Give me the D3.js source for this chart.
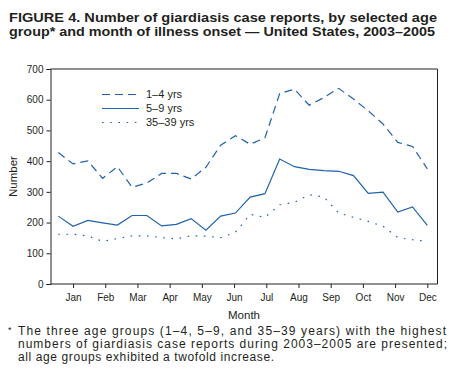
<!DOCTYPE html>
<html>
<head>
<meta charset="utf-8">
<script src="https://cdn.jsdelivr.net/npm/d3@7"></script>
<style>
  html, body { margin: 0; padding: 0; background: #fff; }
  svg { display: block; font-family: Arial, "Liberation Sans", Helvetica, sans-serif; }
</style>
</head>
<body>
<div id="chart"></div>
<script>
// 26 reporting periods across the year
const periods = d3.range(26);
const months = ["Jan", "Feb", "Mar", "Apr", "May", "Jun", "Jul", "Aug", "Sep", "Oct", "Nov", "Dec"];
const yTicks = [0, 100, 200, 300, 400, 500, 600, 700];

const age1to4 = [428, 391, 401, 344, 382, 315, 329, 360, 360, 342, 380, 452, 483,
  455, 476, 620, 634, 582, 607, 637, 602, 564, 521, 461, 448, 375];
const age5to9 = [221, 188, 207, 199, 192, 223, 223, 189, 194, 213, 175, 221, 231,
  283, 294, 407, 382, 373, 369, 367, 353, 295, 299, 234, 251, 191];
const age35to39 = [162, 162, 156, 139, 148, 157, 157, 151, 147, 157, 156, 151, 168,
  227, 217, 258, 266, 291, 283, 231, 217, 204, 188, 151, 144, 139];

const seriesList = [
  { label: "1–4 yrs", values: age1to4, dash: "8,5" },
  { label: "5–9 yrs", values: age5to9, dash: null },
  { label: "35–39 yrs", values: age35to39, dash: "1.6,6.6" }
];

const width = 450;
const height = 385;
const plotLeft = 50.5;
const plotRight = 437.5;
const plotTop = 69;
const plotBottom = 284;
const lineColor = "#1f62ad";
const ink = "#231f20";

const svg = d3.create("svg")
  .attr("width", width)
  .attr("height", height)
  .attr("viewBox", [0, 0, width, height]);

// title
const titleLines = [
  { text: "FIGURE 4. Number of giardiasis case reports, by selected age", y: 22, len: 428 },
  { text: "group* and month of illness onset — United States, 2003–2005", y: 36, len: 426 }
];
svg.append("g")
  .selectAll("text")
  .data(titleLines)
  .join("text")
  .attr("x", 9)
  .attr("y", (d) => d.y)
  .attr("font-size", 13)
  .attr("font-weight", "bold")
  .attr("fill", ink)
  .attr("textLength", (d) => d.len)
  .attr("lengthAdjust", "spacingAndGlyphs")
  .text((d) => d.text);

const x = d3.scaleLinear()
  .domain([0, 25])
  .range([58.3, 427.3]);

const y = d3.scaleLinear()
  .domain([0, 700])
  .range([plotBottom, plotTop]);

// frame (top and right edges)
svg.append("path")
  .attr("d", `M${plotLeft},${plotTop}H${plotRight}V${plotBottom}`)
  .attr("fill", "none")
  .attr("stroke", ink)
  .attr("stroke-width", 1);

// y axis
const yAxis = svg.append("g")
  .attr("transform", `translate(${plotLeft},0)`)
  .call(d3.axisLeft(y).tickValues(yTicks).tickSize(4).tickPadding(3));
yAxis.select(".domain").attr("stroke", ink);
yAxis.selectAll(".tick line").attr("stroke", ink);
yAxis.selectAll(".tick text")
  .attr("font-size", 10)
  .attr("font-family", "Arial, 'Liberation Sans', sans-serif")
  .attr("fill", ink);

// x axis, month ticks spread over the period positions
const monthPos = months.map((m, i) => 1 + i * 24 / 11);
const xAxis = svg.append("g")
  .attr("transform", `translate(0,${plotBottom})`)
  .call(d3.axisBottom(x)
    .tickValues(monthPos)
    .tickFormat((d, i) => months[i])
    .tickSize(4)
    .tickPadding(6));
xAxis.select(".domain")
  .attr("d", `M${plotLeft},0H${plotRight}`)
  .attr("stroke", ink);
xAxis.selectAll(".tick line").attr("stroke", ink);
xAxis.selectAll(".tick text")
  .attr("font-size", 10)
  .attr("font-family", "Arial, 'Liberation Sans', sans-serif")
  .attr("fill", ink);

// axis titles
svg.append("text")
  .attr("x", (plotLeft + plotRight) / 2)
  .attr("y", 319)
  .attr("text-anchor", "middle")
  .attr("font-size", 11.5)
  .attr("fill", ink)
  .text("Month");

svg.append("text")
  .attr("transform", `translate(17,${(plotTop + plotBottom) / 2}) rotate(-90)`)
  .attr("text-anchor", "middle")
  .attr("font-size", 11.5)
  .attr("fill", ink)
  .text("Number");

// lines
const line = d3.line()
  .x((d, i) => x(periods[i]))
  .y((d) => y(d));

svg.append("g")
  .selectAll("path")
  .data(seriesList)
  .join("path")
  .attr("fill", "none")
  .attr("stroke", lineColor)
  .attr("stroke-width", 1.2)
  .attr("stroke-dasharray", (d) => d.dash)
  .attr("d", (d) => line(d.values));

// legend
const legend = svg.append("g")
  .attr("transform", "translate(102,94.5)");
const legendItem = legend.selectAll("g")
  .data(seriesList)
  .join("g")
  .attr("transform", (d, i) => `translate(0,${i * 14})`);
legendItem.append("line")
  .attr("x1", 0)
  .attr("x2", 37)
  .attr("stroke", lineColor)
  .attr("stroke-width", 1.2)
  .attr("stroke-dasharray", (d) => d.dash);
legendItem.append("text")
  .attr("x", 44)
  .attr("dy", "0.35em")
  .attr("font-size", 11)
  .attr("fill", ink)
  .text((d) => d.label);

// footnote
const noteLines = [
  { text: "The three age groups (1–4, 5–9, and 35–39 years) with the highest", y: 335, len: 428 },
  { text: "numbers of giardiasis case reports during 2003–2005 are presented;", y: 348, len: 429 },
  { text: "all age groups exhibited a twofold increase.", y: 361, len: 256 }
];
svg.append("text")
  .attr("x", 8)
  .attr("y", 333)
  .attr("font-size", 9)
  .attr("fill", ink)
  .text("*");
svg.append("g")
  .selectAll("text")
  .data(noteLines)
  .join("text")
  .attr("x", 18)
  .attr("y", (d) => d.y)
  .attr("font-size", 12)
  .attr("fill", ink)
  .attr("textLength", (d) => d.len)
  .attr("lengthAdjust", "spacing")
  .text((d) => d.text);

document.querySelector("#chart").appendChild(svg.node());
</script>
</body>
</html>
